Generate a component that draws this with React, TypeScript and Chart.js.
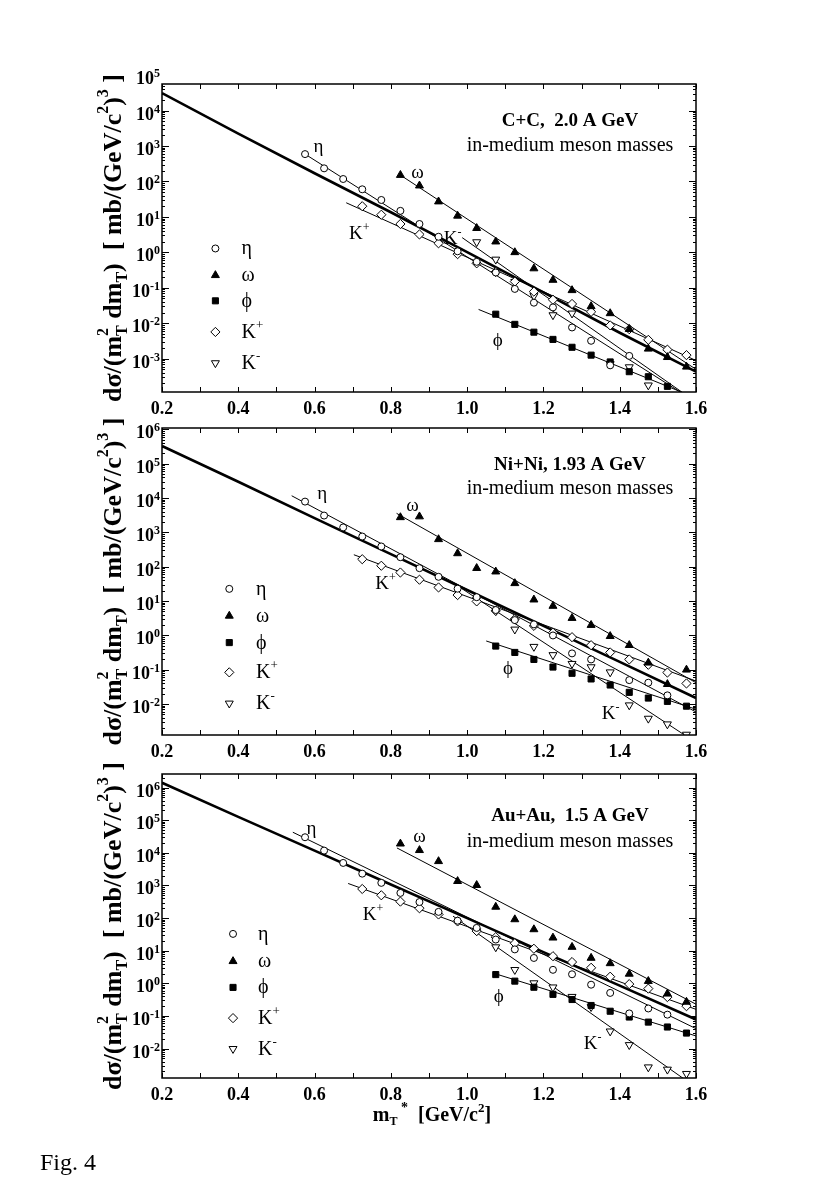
import React, { useEffect, useRef } from 'react';
import { Chart, registerables } from 'chart.js';

Chart.register(...registerables);

const SERIF = '"Liberation Serif", "Times New Roman", Times, serif';
const W = 817;
const H = 1199;
const LEFT = 162;
const RIGHT = 696;

// ---------- shared axis ----------
const X_TICKS = [0.2, 0.4, 0.6, 0.8, 1.0, 1.2, 1.4, 1.6];
const REF_X = [0.2, 0.4, 0.6, 0.8, 1.0, 1.2, 1.4, 1.6];

// ---------- Panel 1 : C+C, 2.0 A GeV ----------
const CC_ETA_X = [0.575, 0.625, 0.675, 0.725, 0.775, 0.825, 0.875, 0.925, 0.975, 1.025, 1.075, 1.125, 1.175, 1.225, 1.275, 1.325, 1.375, 1.425];
const CC_ETA = [590, 234, 117, 60, 30, 14.8, 6.3, 2.75, 1.07, 0.54, 0.27, 0.093, 0.038, 0.028, 0.0076, 0.0032, 0.00065, 0.0012];
const CC_OMEGA_X = [0.825, 0.875, 0.925, 0.975, 1.025, 1.075, 1.125, 1.175, 1.225, 1.275, 1.325, 1.375, 1.425, 1.475, 1.525, 1.575];
const CC_OMEGA = [151, 76, 27, 10.7, 4.8, 2.0, 1.0, 0.35, 0.166, 0.085, 0.03, 0.019, 0.0068, 0.0019, 0.0011, 0.00059];
const CC_PHI_X = [1.075, 1.125, 1.175, 1.225, 1.275, 1.325, 1.375, 1.425, 1.475, 1.525];
const CC_PHI = [0.018, 0.0093, 0.0056, 0.0035, 0.0021, 0.00126, 0.00081, 0.00043, 0.00031, 0.000166];
const CC_KP_X = [0.725, 0.775, 0.825, 0.875, 0.925, 0.975, 1.025, 1.075, 1.125, 1.175, 1.225, 1.275, 1.325, 1.375, 1.425, 1.475, 1.525, 1.575];
const CC_KP = [20, 11.5, 6.3, 3.2, 1.8, 0.89, 0.49, 0.28, 0.15, 0.078, 0.046, 0.035, 0.021, 0.0087, 0.0068, 0.0034, 0.0018, 0.00126];
const CC_KM_X = [1.025, 1.075, 1.125, 1.175, 1.225, 1.275, 1.375, 1.425, 1.475];
const CC_KM = [1.95, 0.63, 0.148, 0.059, 0.017, 0.019, 0.00071, 0.00058, 0.000178];
const CC_REF = [31000, 2240, 170, 13.5, 1.02, 0.074, 0.0054, 0.00043];
const CC_FIT_ETA_X = [0.575, 1.6];
const CC_FIT_ETA = [590, 6.0e-5];
const CC_FIT_OMEGA_X = [0.825, 1.6];
const CC_FIT_OMEGA = [151, 5.0e-4];
const CC_FIT_PHI_X = [1.03, 1.6];
const CC_FIT_PHI = [0.0245, 7.8e-5];
const CC_FIT_KP_X = [0.683, 1.6];
const CC_FIT_KP = [25, 8.9e-4];
const CC_FIT_KM_X = [0.987, 1.6];
const CC_FIT_KM = [2.6, 6.0e-5];

// ---------- Panel 2 : Ni+Ni, 1.93 A GeV ----------
const NI_ETA_X = [0.575, 0.625, 0.675, 0.725, 0.775, 0.825, 0.875, 0.925, 0.975, 1.025, 1.075, 1.125, 1.175, 1.225, 1.275, 1.325, 1.425, 1.475, 1.525];
const NI_ETA = [7900, 3100, 1400, 760, 390, 190, 91, 51, 23, 13, 5.5, 2.8, 2.1, 1.0, 0.3, 0.2, 0.05, 0.042, 0.018];
const NI_OMEGA_X = [0.825, 0.875, 0.925, 0.975, 1.025, 1.075, 1.125, 1.175, 1.225, 1.275, 1.325, 1.375, 1.425, 1.475, 1.525, 1.575];
const NI_OMEGA = [2750, 2900, 630, 245, 91, 72, 33, 11, 7.2, 3.2, 2.0, 0.95, 0.52, 0.16, 0.038, 0.10];
const NI_PHI_X = [1.075, 1.125, 1.175, 1.225, 1.275, 1.325, 1.375, 1.425, 1.475, 1.525, 1.575];
const NI_PHI = [0.49, 0.32, 0.2, 0.12, 0.079, 0.054, 0.036, 0.022, 0.015, 0.012, 0.0087];
const NI_KP_X = [0.725, 0.775, 0.825, 0.875, 0.925, 0.975, 1.025, 1.075, 1.125, 1.175, 1.225, 1.275, 1.325, 1.375, 1.425, 1.475, 1.525, 1.575];
const NI_KP = [166, 107, 68, 42, 25, 15, 9.8, 5.2, 3.0, 1.9, 1.2, 0.89, 0.52, 0.32, 0.2, 0.14, 0.083, 0.04];
const NI_KM_X = [1.025, 1.075, 1.125, 1.175, 1.225, 1.275, 1.325, 1.375, 1.425, 1.475, 1.525, 1.575];
const NI_KM = [11, 5.2, 1.5, 0.47, 0.27, 0.15, 0.12, 0.085, 0.0093, 0.0038, 0.0026, 0.0013];
const NI_REF = [3.3e5, 3.0e4, 2.6e3, 234, 21, 1.9, 0.17, 0.015];
const NI_FIT_ETA_X = [0.54, 1.6];
const NI_FIT_ETA = [11700, 0.0059];
const NI_FIT_OMEGA_X = [0.815, 1.6];
const NI_FIT_OMEGA = [3600, 0.042];
const NI_FIT_PHI_X = [1.05, 1.6];
const NI_FIT_PHI = [0.69, 0.0071];
const NI_FIT_KP_X = [0.703, 1.6];
const NI_FIT_KP = [224, 0.047];
const NI_FIT_KM_X = [0.965, 1.6];
const NI_FIT_KM = [33, 0.00076];

// ---------- Panel 3 : Au+Au, 1.5 A GeV ----------
const AU_ETA_X = [0.575, 0.625, 0.675, 0.725, 0.775, 0.825, 0.875, 0.925, 0.975, 1.025, 1.075, 1.125, 1.175, 1.225, 1.275, 1.325, 1.375, 1.425, 1.475, 1.525];
const AU_ETA = [30000, 11700, 4900, 2300, 1200, 590, 310, 155, 83, 50, 22, 11, 6.0, 2.6, 1.9, 0.91, 0.51, 0.12, 0.17, 0.11];
const AU_OMEGA_X = [0.825, 0.875, 0.925, 0.975, 1.025, 1.075, 1.125, 1.175, 1.225, 1.275, 1.325, 1.375, 1.425, 1.475, 1.525, 1.575];
const AU_OMEGA = [19000, 12000, 5500, 1350, 1020, 220, 91, 45, 25, 13, 6.0, 4.1, 1.95, 1.17, 0.48, 0.27];
const AU_PHI_X = [1.075, 1.125, 1.175, 1.225, 1.275, 1.325, 1.375, 1.425, 1.475, 1.525, 1.575];
const AU_PHI = [1.86, 1.17, 0.76, 0.46, 0.32, 0.21, 0.14, 0.093, 0.065, 0.046, 0.03];
const AU_KP_X = [0.725, 0.775, 0.825, 0.875, 0.925, 0.975, 1.025, 1.075, 1.125, 1.175, 1.225, 1.275, 1.325, 1.375, 1.425, 1.475, 1.525, 1.575];
const AU_KP = [780, 500, 320, 200, 129, 79, 40, 26, 17, 11.5, 6.8, 4.5, 3.0, 1.6, 0.95, 0.69, 0.38, 0.2];
const AU_KM_X = [1.025, 1.075, 1.125, 1.175, 1.225, 1.275, 1.325, 1.375, 1.425, 1.475, 1.525, 1.575];
const AU_KM = [40, 12.9, 2.6, 1.02, 0.76, 0.39, 0.19, 0.034, 0.013, 0.0027, 0.0023, 0.0017];
const AU_REF = [1.4e6, 1.26e5, 1.17e4, 1070, 100, 9.1, 0.85, 0.078];
const AU_FIT_ETA_X = [0.543, 1.6];
const AU_FIT_ETA = [42700, 0.041];
const AU_FIT_OMEGA_X = [0.816, 1.6];
const AU_FIT_OMEGA = [14100, 0.23];
const AU_FIT_PHI_X = [1.075, 1.6];
const AU_FIT_PHI = [1.95, 0.0245];
const AU_FIT_KP_X = [0.688, 1.6];
const AU_FIT_KP = [1150, 0.16];
const AU_FIT_KM_X = [0.963, 1.6];
const AU_FIT_KM = [115, 0.00065];

// ---------- types / helpers ----------
type Pt = { x: number; y: number };
const pts = (xs: number[], ys: number[]): Pt[] => xs.map((x, i) => ({ x, y: ys[i] }));

type Seg = { t: string; size: number; dy?: number; stack?: Seg[] };

interface CurveLabel { segs: Seg[]; x: number; y: number }

interface PanelSpec {
  top: number;
  bottom: number;
  yMin: number;
  yMax: number;
  title: string;
  titleY: number;
  subY: number;
  legendX: number;
  legendLabelX: number;
  legendRows: number[];
  labels: CurveLabel[];
  ref: Pt[];
  eta: Pt[];
  omega: Pt[];
  phi: Pt[];
  kp: Pt[];
  km: Pt[];
  fits: Pt[][];
  xTitle: boolean;
}

function segWidth(ctx: CanvasRenderingContext2D, s: Seg, weight: string): number {
  if (s.stack) {
    let m = 0;
    s.stack.forEach((ss) => {
      m = Math.max(m, segWidth(ctx, ss, weight));
    });
    return m;
  }
  ctx.font = `${weight} ${s.size}px ${SERIF}`;
  return ctx.measureText(s.t).width;
}

function drawRich(
  ctx: CanvasRenderingContext2D,
  segs: Seg[],
  x: number,
  y: number,
  weight: string,
  align: 'left' | 'center' | 'right'
) {
  const ws = segs.map((s) => segWidth(ctx, s, weight));
  const total = ws.reduce((a, b) => a + b, 0);
  let cx = align === 'left' ? x : align === 'center' ? x - total / 2 : x - total;
  ctx.textAlign = 'left';
  ctx.textBaseline = 'alphabetic';
  segs.forEach((s, i) => {
    const parts = s.stack ? s.stack : [s];
    parts.forEach((p) => {
      ctx.font = `${weight} ${p.size}px ${SERIF}`;
      ctx.fillText(p.t, cx, y + (p.dy || 0));
    });
    cx += ws[i];
  });
}

function drawMarker(ctx: CanvasRenderingContext2D, kind: string, x: number, y: number) {
  ctx.beginPath();
  let fill = '#fff';
  if (kind === 'circle') {
    ctx.arc(x, y, 3.5, 0, Math.PI * 2);
  } else if (kind === 'tri' || kind === 'itri') {
    const r = 4.6;
    const base = kind === 'tri' ? 0 : Math.PI;
    for (let i = 0; i < 3; i++) {
      const a = base + (i * 2 * Math.PI) / 3;
      const px = x + Math.sin(a) * r;
      const py = y - Math.cos(a) * r;
      if (i === 0) ctx.moveTo(px, py);
      else ctx.lineTo(px, py);
    }
    ctx.closePath();
    if (kind === 'tri') fill = '#000';
  } else if (kind === 'square') {
    const s = Math.SQRT1_2 * 4.3;
    ctx.rect(x - s, y - s, 2 * s, 2 * s);
    fill = '#000';
  } else if (kind === 'diamond') {
    const r = 4.6;
    ctx.moveTo(x - r, y);
    ctx.lineTo(x, y - r);
    ctx.lineTo(x + r, y);
    ctx.lineTo(x, y + r);
    ctx.closePath();
  }
  ctx.fillStyle = fill;
  ctx.fill();
  ctx.lineWidth = 1;
  ctx.strokeStyle = '#000';
  ctx.stroke();
}

const Y_TITLE: Seg[] = [
  { t: 'dσ/(m', size: 26 },
  { t: '', size: 16, stack: [{ t: 'T', size: 16, dy: 6 }, { t: '2', size: 16, dy: -13 }] },
  { t: ' dm', size: 26 },
  { t: 'T', size: 16, dy: 6 },
  { t: ')  [ mb/(GeV/c', size: 26 },
  { t: '2', size: 16, dy: -13 },
  { t: ')', size: 26 },
  { t: '3', size: 16, dy: -13 },
  { t: ' ]', size: 26 },
];

const X_TITLE: Seg[] = [
  { t: 'm', size: 20 },
  { t: 'T', size: 12, dy: 4 },
  { t: ' *', size: 14, dy: -9 },
  { t: '  [GeV/c', size: 20 },
  { t: '2', size: 13, dy: -9 },
  { t: ']', size: 20 },
];

const LEGEND_KINDS = ['circle', 'tri', 'square', 'diamond', 'itri'];
const LEGEND_TEXT: Seg[][] = [
  [{ t: 'η', size: 20 }],
  [{ t: 'ω', size: 20 }],
  [{ t: 'ϕ', size: 20 }],
  [{ t: 'K', size: 20 }, { t: '+', size: 13, dy: -9 }],
  [{ t: 'K', size: 20 }, { t: '-', size: 13, dy: -9 }],
];

const lab = (t: string, sup?: string): Seg[] =>
  sup ? [{ t, size: 19 }, { t: sup, size: 12, dy: -8 }] : [{ t, size: 19 }];

const PANELS: PanelSpec[] = [
  {
    top: 84, bottom: 392, yMin: 1.15e-4, yMax: 5.6e4,
    title: 'C+C,  2.0 A GeV', titleY: 0.122, subY: 0.2,
    legendX: 0.1, legendLabelX: 0.149, legendRows: [0.534, 0.621, 0.704, 0.805, 0.906],
    labels: [
      { segs: lab('η'), x: 0.61, y: 1000 },
      { segs: lab('ω'), x: 0.87, y: 186 },
      { segs: lab('K', '+'), x: 0.717, y: 3.5 },
      { segs: lab('K', '-'), x: 0.962, y: 2.6 },
      { segs: lab('ϕ'), x: 1.08, y: 0.0034 },
    ],
    ref: pts(REF_X, CC_REF),
    eta: pts(CC_ETA_X, CC_ETA), omega: pts(CC_OMEGA_X, CC_OMEGA), phi: pts(CC_PHI_X, CC_PHI),
    kp: pts(CC_KP_X, CC_KP), km: pts(CC_KM_X, CC_KM),
    fits: [pts(CC_FIT_ETA_X, CC_FIT_ETA), pts(CC_FIT_OMEGA_X, CC_FIT_OMEGA), pts(CC_FIT_PHI_X, CC_FIT_PHI), pts(CC_FIT_KP_X, CC_FIT_KP), pts(CC_FIT_KM_X, CC_FIT_KM)],
    xTitle: false,
  },
  {
    top: 428, bottom: 735, yMin: 1.26e-3, yMax: 1.1e6,
    title: 'Ni+Ni, 1.93 A GeV', titleY: 0.122, subY: 0.198,
    legendX: 0.126, legendLabelX: 0.176, legendRows: [0.524, 0.612, 0.699, 0.796, 0.897],
    labels: [
      { segs: lab('η'), x: 0.62, y: 13800 },
      { segs: lab('ω'), x: 0.857, y: 6300 },
      { segs: lab('K', '+'), x: 0.786, y: 33 },
      { segs: lab('K', '-'), x: 1.376, y: 0.0054 },
      { segs: lab('ϕ'), x: 1.107, y: 0.11 },
    ],
    ref: pts(REF_X, NI_REF),
    eta: pts(NI_ETA_X, NI_ETA), omega: pts(NI_OMEGA_X, NI_OMEGA), phi: pts(NI_PHI_X, NI_PHI),
    kp: pts(NI_KP_X, NI_KP), km: pts(NI_KM_X, NI_KM),
    fits: [pts(NI_FIT_ETA_X, NI_FIT_ETA), pts(NI_FIT_OMEGA_X, NI_FIT_OMEGA), pts(NI_FIT_PHI_X, NI_FIT_PHI), pts(NI_FIT_KP_X, NI_FIT_KP), pts(NI_FIT_KM_X, NI_FIT_KM)],
    xTitle: false,
  },
  {
    top: 774, bottom: 1078, yMin: 1.26e-3, yMax: 2.6e6,
    title: 'Au+Au,  1.5 A GeV', titleY: 0.14, subY: 0.222,
    legendX: 0.133, legendLabelX: 0.18, legendRows: [0.526, 0.616, 0.702, 0.803, 0.904],
    labels: [
      { segs: lab('η'), x: 0.592, y: 57500 },
      { segs: lab('ω'), x: 0.875, y: 32400 },
      { segs: lab('K', '+'), x: 0.753, y: 129 },
      { segs: lab('K', '-'), x: 1.329, y: 0.015 },
      { segs: lab('ϕ'), x: 1.083, y: 0.41 },
    ],
    ref: pts(REF_X, AU_REF),
    eta: pts(AU_ETA_X, AU_ETA), omega: pts(AU_OMEGA_X, AU_OMEGA), phi: pts(AU_PHI_X, AU_PHI),
    kp: pts(AU_KP_X, AU_KP), km: pts(AU_KM_X, AU_KM),
    fits: [pts(AU_FIT_ETA_X, AU_FIT_ETA), pts(AU_FIT_OMEGA_X, AU_FIT_OMEGA), pts(AU_FIT_PHI_X, AU_FIT_PHI), pts(AU_FIT_KP_X, AU_FIT_KP), pts(AU_FIT_KM_X, AU_FIT_KM)],
    xTitle: true,
  },
];

function makeDecor(spec: PanelSpec) {
  return {
    id: 'decor',
    afterDatasetsDraw(chart: any) {
      const ctx: CanvasRenderingContext2D = chart.ctx;
      const a = chart.chartArea;
      const xs = chart.scales.x;
      const ys = chart.scales.y;
      const w = a.right - a.left;
      const h = a.bottom - a.top;
      ctx.save();
      ctx.fillStyle = '#000';
      ctx.strokeStyle = '#000';

      // frame
      ctx.lineWidth = 1.5;
      ctx.strokeRect(a.left, a.top, w, h);

      // ticks
      ctx.lineWidth = 1;
      ctx.beginPath();
      for (let i = 2; i <= 16; i++) {
        const px = Math.round(xs.getPixelForValue(i / 10)) + 0.5;
        ctx.moveTo(px, a.bottom);
        ctx.lineTo(px, a.bottom - 5);
        ctx.moveTo(px, a.top);
        ctx.lineTo(px, a.top + 5);
      }
      const lo = Math.floor(Math.log10(spec.yMin));
      const hi = Math.floor(Math.log10(spec.yMax));
      for (let k = lo; k <= hi; k++) {
        for (let m = 1; m <= 9; m++) {
          const v = m * Math.pow(10, k);
          if (v < spec.yMin || v > spec.yMax) continue;
          const py = Math.round(ys.getPixelForValue(v)) + 0.5;
          const len = m === 1 ? 7 : 3;
          ctx.moveTo(a.left, py);
          ctx.lineTo(a.left + len, py);
          ctx.moveTo(a.right, py);
          ctx.lineTo(a.right - len, py);
        }
      }
      ctx.stroke();

      // x tick labels
      ctx.font = `bold 18px ${SERIF}`;
      ctx.textAlign = 'center';
      ctx.textBaseline = 'alphabetic';
      X_TICKS.forEach((v) => {
        ctx.fillText(v.toFixed(1), xs.getPixelForValue(v), a.bottom + 22);
      });

      // y tick labels (10^k)
      const kLo = Math.ceil(Math.log10(spec.yMin) - 1e-9);
      const kHi = Math.floor(Math.log10(spec.yMax * 2));
      for (let k = kLo; k <= kHi; k++) {
        const py = ys.getPixelForValue(Math.pow(10, k));
        const exp = String(k);
        ctx.font = `bold 12px ${SERIF}`;
        const ew = ctx.measureText(exp).width;
        const rx = a.left - 2;
        ctx.textAlign = 'left';
        ctx.fillText(exp, rx - ew, py + 2);
        ctx.font = `bold 18px ${SERIF}`;
        ctx.textAlign = 'right';
        ctx.fillText('10', rx - ew, py + 9);
      }

      // y-axis title (rotated)
      ctx.save();
      ctx.translate(121, (a.top + a.bottom) / 2);
      ctx.rotate(-Math.PI / 2);
      drawRich(ctx, Y_TITLE, 0, 0, 'bold', 'center');
      ctx.restore();

      // x-axis title
      if (spec.xTitle) {
        drawRich(ctx, X_TITLE, 432, a.bottom + 43, 'bold', 'center');
      }

      // title and subtitle
      const cx = a.left + 0.764 * w;
      ctx.font = `bold 19px ${SERIF}`;
      ctx.textAlign = 'center';
      ctx.textBaseline = 'middle';
      ctx.fillText(spec.title, cx, a.top + spec.titleY * h);
      ctx.font = `20px ${SERIF}`;
      ctx.fillText('in-medium meson masses', cx, a.top + spec.subY * h);

      // legend
      LEGEND_KINDS.forEach((kind, i) => {
        const y = a.top + spec.legendRows[i] * h;
        drawMarker(ctx, kind, a.left + spec.legendX * w, y);
        ctx.fillStyle = '#000';
        drawRich(ctx, LEGEND_TEXT[i], a.left + spec.legendLabelX * w, y + 6, 'normal', 'left');
      });

      // curve labels
      ctx.fillStyle = '#000';
      spec.labels.forEach((l) => {
        const px = xs.getPixelForValue(l.x);
        const py = ys.getPixelForValue(l.y);
        drawRich(ctx, l.segs, px, py + 6, 'normal', 'center');
      });

      ctx.restore();
    },
  };
}

function buildConfig(spec: PanelSpec): any {
  const ptDs = (data: Pt[], style: string, r: number, fill: string, rot = 0) => ({
    data,
    showLine: false,
    pointStyle: style,
    pointRadius: r,
    pointHoverRadius: r,
    pointBorderWidth: 1,
    pointBackgroundColor: fill,
    pointBorderColor: '#000',
    pointRotation: rot,
    borderColor: '#000',
    backgroundColor: fill,
  });
  const lineDs = (data: Pt[], width: number) => ({
    data,
    showLine: true,
    borderColor: '#000',
    borderWidth: width,
    pointRadius: 0,
    pointHoverRadius: 0,
    fill: false,
    tension: 0,
  });
  return {
    type: 'scatter',
    data: {
      datasets: [
        ptDs(spec.eta, 'circle', 3.5, '#fff'),
        ptDs(spec.omega, 'triangle', 4.6, '#000'),
        ptDs(spec.phi, 'rect', 4.3, '#000'),
        ptDs(spec.kp, 'rectRot', 4.6, '#fff'),
        ptDs(spec.km, 'triangle', 4.6, '#fff', 180),
        ...spec.fits.map((f) => lineDs(f, 1)),
        lineDs(spec.ref, 2.6),
      ],
    },
    options: {
      responsive: false,
      animation: false,
      events: [],
      layout: { padding: { left: LEFT, right: W - RIGHT, top: spec.top, bottom: H - spec.bottom } },
      plugins: { legend: { display: false }, tooltip: { enabled: false } },
      scales: {
        x: {
          type: 'linear',
          min: 0.2,
          max: 1.6,
          grid: { display: false, drawTicks: false },
          border: { display: false },
          ticks: { display: false },
          afterFit: (s: any) => {
            s.height = 0;
          },
        },
        y: {
          type: 'logarithmic',
          min: spec.yMin,
          max: spec.yMax,
          grid: { display: false, drawTicks: false },
          border: { display: false },
          ticks: { display: false },
          afterFit: (s: any) => {
            s.width = 0;
          },
        },
      },
    },
    plugins: [makeDecor(spec)],
  };
}

function Panel({ spec }: { spec: PanelSpec }) {
  const ref = useRef<HTMLCanvasElement>(null);
  useEffect(() => {
    if (!ref.current) return;
    const chart = new Chart(ref.current, buildConfig(spec));
    return () => chart.destroy();
  }, [spec]);
  return (
    <canvas
      ref={ref}
      width={W}
      height={H}
      style={{ position: 'absolute', left: 0, top: 0, width: W, height: H }}
    />
  );
}

export default function App() {
  return (
    <div
      style={{
        position: 'absolute',
        left: 0,
        top: 0,
        width: W,
        height: H,
        overflow: 'hidden',
        background: '#fff',
      }}
    >
      {PANELS.map((p, i) => (
        <Panel key={i} spec={p} />
      ))}
      <div
        style={{
          position: 'absolute',
          left: 40,
          top: 1149,
          fontFamily: SERIF,
          fontSize: 24,
          lineHeight: '26px',
          color: '#000',
        }}
      >
        Fig. 4
      </div>
    </div>
  );
}
